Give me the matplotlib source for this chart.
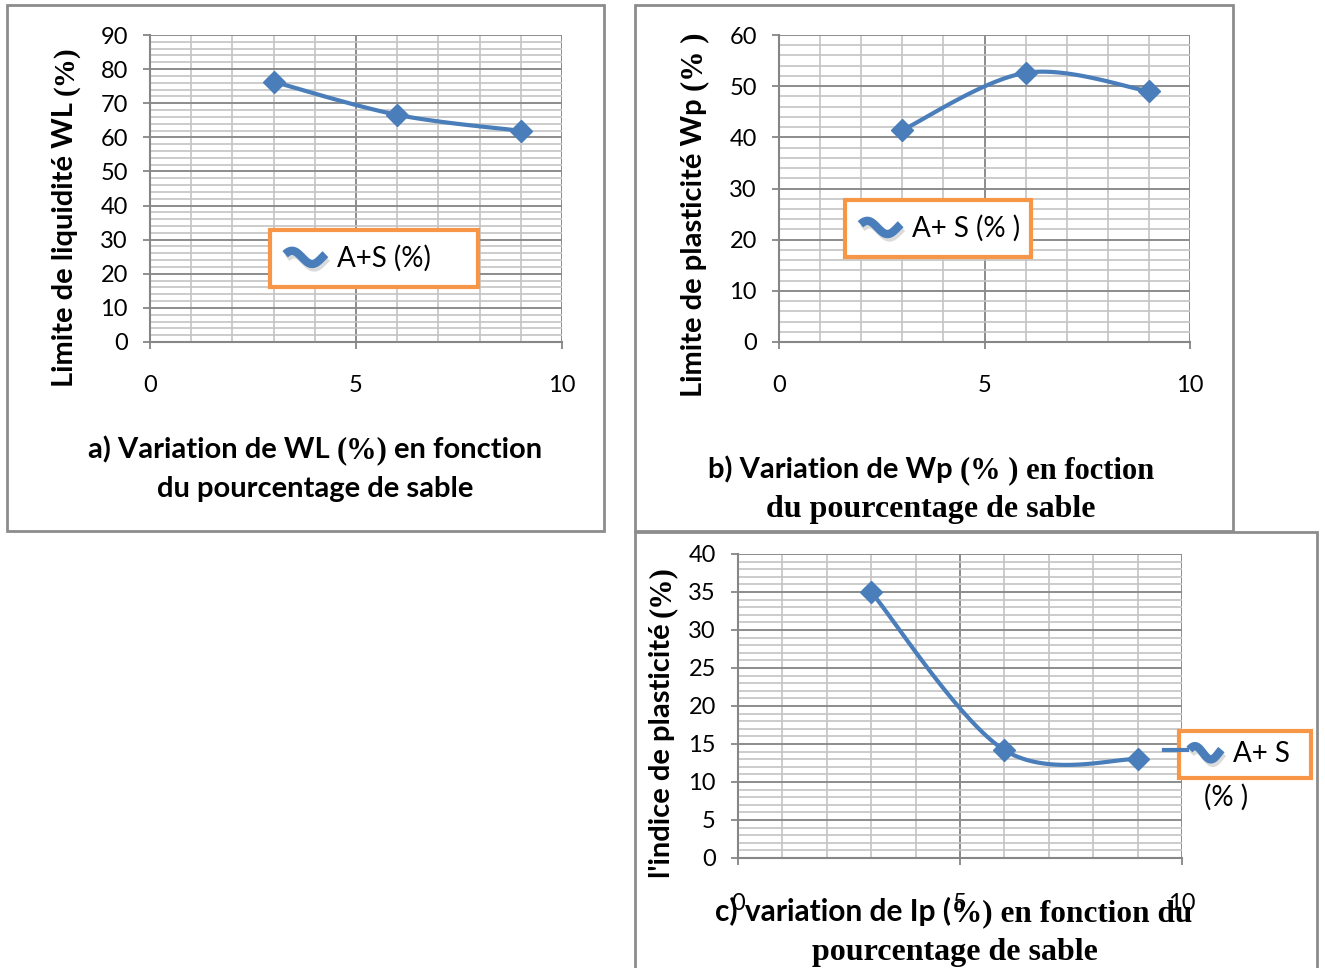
import numpy as np
import matplotlib
matplotlib.use("Agg")
import matplotlib.pyplot as plt
from matplotlib.lines import Line2D
from matplotlib.patches import Rectangle
from matplotlib.legend_handler import HandlerBase
from matplotlib.ticker import MultipleLocator

# sand content (%) and measured limits
sable = [3, 6, 9]
wl = [76.3, 66.6, 61.9]
wp = [41.4, 52.6, 49.0]
ip = [35.0, 14.2, 13.0]

SANS = "Lato"
SERIF = "Liberation Serif"
BLUE = "#4A7EBB"
ORANGE = "#F79646"
FRAME = "#8C8C8C"

W, H = 1325, 968
fig = plt.figure(figsize=(W / 100, H / 100), dpi=100)
renderer = fig.canvas.get_renderer()


def px_axes(x0, y0, x1, y1):
    return fig.add_axes([x0 / W, 1 - y1 / H, (x1 - x0) / W, (y1 - y0) / H])


def frame(x0, y0, x1, y1):
    fig.add_artist(Rectangle((x0 / W, 1 - y1 / H), (x1 - x0) / W, (y1 - y0) / H,
                             transform=fig.transFigure, fill=False,
                             edgecolor=FRAME, lw=2))


def smooth(xs, ys, n=40):
    # Excel-style smoothed line: cubic Bezier through the points
    p = np.column_stack([xs, ys]).astype(float)
    ext = np.vstack([p[0], p, p[-1]])
    t = np.linspace(0, 1, n)[:, None]
    out = []
    for i in range(len(p) - 1):
        p0, p1 = ext[i + 1], ext[i + 2]
        c1 = p0 + (ext[i + 2] - ext[i]) / 6
        c2 = p1 - (ext[i + 3] - ext[i + 1]) / 6
        seg = ((1 - t) ** 3) * p0 + 3 * ((1 - t) ** 2) * t * c1 + 3 * (1 - t) * t ** 2 * c2 + t ** 3 * p1
        out.append(seg)
    out = np.vstack(out)
    return out[:, 0], out[:, 1]


def text_width(s, fam, size, weight):
    t1 = fig.text(0, 0, "|" + s + "|", family=fam, size=size, weight=weight)
    t2 = fig.text(0, 0, "||", family=fam, size=size, weight=weight)
    w = t1.get_window_extent(renderer).width - t2.get_window_extent(renderer).width
    t1.remove()
    t2.remove()
    return w


def mixed_text(x, y, parts, size, rotation=0, weight="bold"):
    # parts drawn one after another on a common baseline, centred on x (or y when rotated)
    widths = [text_width(s, f, sz, weight) for s, f, sz in
              [(p[0], p[1], p[2] if len(p) > 2 else size) for p in parts]]
    total = sum(widths)
    pos = x - total / 2 if rotation == 0 else y + total / 2
    for part, w in zip(parts, widths):
        s, fam = part[0], part[1]
        sz = part[2] if len(part) > 2 else size
        if s.strip():
            if rotation == 0:
                fig.text(pos / W, 1 - y / H, s, family=fam, size=sz, weight=weight,
                         ha="left", va="baseline")
            else:
                fig.text(x / W, 1 - pos / H, s, family=fam, size=sz, weight=weight,
                         ha="left", va="baseline", rotation=90, rotation_mode="anchor")
        pos = pos + w if rotation == 0 else pos - w


class WaveHandler(HandlerBase):
    def __init__(self, lead=0):
        super().__init__()
        self.lead = lead

    def create_artists(self, legend, orig_handle, xdescent, ydescent, width, height,
                       fontsize, trans):
        t = np.linspace(0, 1, 50)
        xs = -xdescent + width * t
        ys = -ydescent + height * 0.5 + height * 0.34 * np.sin(2 * np.pi * t + 0.5)
        shadow = Line2D(xs + 1.5, ys - 3, color="#7f7f7f", lw=5, alpha=0.28,
                        solid_capstyle="butt", transform=trans)
        wave = Line2D(xs, ys, color=BLUE, lw=6, solid_capstyle="butt", transform=trans)
        arts = [shadow, wave]
        if self.lead:
            arts.append(Line2D([-xdescent - self.lead, -xdescent - 2],
                               [ys[0], ys[0]], color=BLUE, lw=3, transform=trans))
        return arts


def style_axes(ax, ymax, ymajor, yminor, xpad):
    ax.set_xlim(0, 10)
    ax.set_ylim(0, ymax)
    ax.xaxis.set_major_locator(MultipleLocator(5))
    ax.xaxis.set_minor_locator(MultipleLocator(1))
    ax.yaxis.set_major_locator(MultipleLocator(ymajor))
    ax.yaxis.set_minor_locator(MultipleLocator(yminor))
    ax.grid(which="minor", color="#C4C4C4", lw=1.2)
    ax.grid(which="major", color="#8C8C8C", lw=1.4)
    ax.set_axisbelow(True)
    for side in ("top", "right"):
        ax.spines[side].set_visible(False)
    for side in ("left", "bottom"):
        ax.spines[side].set_color("#868686")
        ax.spines[side].set_linewidth(1.5)
    ax.tick_params(which="major", length=5, width=1.3, color="#868686",
                   labelsize=17, direction="out")
    ax.tick_params(axis="y", pad=11)
    ax.tick_params(axis="x", pad=xpad)
    ax.tick_params(which="minor", length=0)
    for lab in ax.get_xticklabels() + ax.get_yticklabels():
        lab.set_family(SANS)


def draw_series(ax, ys, label):
    sx, sy = smooth(sable, ys)
    line, = ax.plot(sx, sy, color=BLUE, lw=3, label=label, zorder=3)
    ax.plot(sable, ys, ls="none", marker="D", ms=11, color=BLUE, zorder=4)
    return line


def add_legend(ax, handle, x0, top, width, lead=0, hlen=1.45, pad=0.55):
    leg = ax.legend(handles=[handle], loc="upper left", mode="expand",
                    bbox_to_anchor=(x0, top - 0.1, width, 0.1),
                    handler_map={handle: WaveHandler(lead)}, frameon=True,
                    fancybox=False, edgecolor=ORANGE, framealpha=1, borderaxespad=0,
                    prop={"family": SANS, "size": 20}, handlelength=hlen,
                    handletextpad=0.4, borderpad=pad)
    leg.get_frame().set_linewidth(3)
    return leg


# a) liquid limit
ax_a = px_axes(150, 35, 562, 342)
style_axes(ax_a, 90, 10, 2, 19)
h = draw_series(ax_a, wl, "A+S (%)")
add_legend(ax_a, h, 0.291, 0.365, 0.505)
mixed_text(73, 217, [("Limite de liquidité WL", SANS), (" ", SANS), ("(%)", SERIF)], 21, rotation=90)
mixed_text(315, 458, [("a) Variation de WL", SANS), (" ", SANS), ("(%)", SERIF, 22),
                      (" ", SANS), ("en fonction", SANS)], 21)
mixed_text(315, 497, [("du pourcentage de sable", SANS)], 21)

# b) plastic limit
ax_b = px_axes(779, 35, 1190, 342)
style_axes(ax_b, 60, 10, 2, 19)
h = draw_series(ax_b, wp, "A+ S (% )")
add_legend(ax_b, h, 0.161, 0.4625, 0.4526)
mixed_text(702, 215, [("Limite de plasticité Wp", SANS), (" ", SANS), ("(% )", SERIF, 22)], 21, rotation=90)
mixed_text(931, 478, [("b) Variation de Wp", SANS), (" ", SERIF, 22), ("(% ) en foction", SERIF, 22)], 21)
mixed_text(931, 517, [("du pourcentage de sable", SERIF)], 23)

# c) plasticity index
ax_c = px_axes(738, 554, 1182, 858)
style_axes(ax_c, 40, 5, 1, 20)
h = draw_series(ax_c, ip, "A+ S")
add_legend(ax_c, h, 0.993, 0.418, 0.297, lead=18, hlen=1.15, pad=0.38)
fig.text(1226 / W, 1 - 797 / H, "(% )", family=SANS, size=20, ha="center", va="center")
mixed_text(670, 722, [("l'indice de plasticité", SANS), (" ", SANS), ("(%)", SERIF, 22)], 21, rotation=90)
mixed_text(954, 921, [("c) variation de Ip (", SANS, 21.5), ("%) en fonction du", SERIF, 22.5)], 21)
mixed_text(955, 960, [("pourcentage de sable", SERIF)], 23)

frame(7, 5, 604, 531)
frame(635, 5, 1233, 531)
frame(635, 532, 1317, 975)

fig.savefig("out.png", dpi=100)
